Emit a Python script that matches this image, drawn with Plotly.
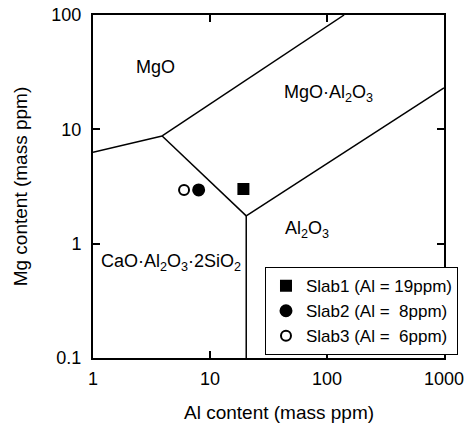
import plotly.graph_objects as go
import math

# Phase boundary lines (Al ppm, Mg ppm)
b1_x = [1, 3.9]
b1_y = [6.3, 8.75]
b2_x = [3.9, 140]
b2_y = [8.75, 100]
b3_x = [3.9, 20.4]
b3_y = [8.75, 1.75]
b4_x = [20.4, 20.4]
b4_y = [1.75, 0.1]
b5_x = [20.4, 1000]
b5_y = [1.75, 23]

# Slab data
slab_names = ["Slab1 (Al = 19ppm)", "Slab2 (Al =  8ppm)", "Slab3 (Al =  6ppm)"]
slab_al = [19.3, 8.0, 6.0]
slab_mg = [3.0, 2.95, 2.95]
slab_symbols = ["square", "circle", "circle-open"]
slab_sizes = [10, 11, 10]

# Region labels
region_text = ["MgO", "MgO·Al<sub>2</sub>O<sub>3</sub>", "Al<sub>2</sub>O<sub>3</sub>",
               "CaO·Al<sub>2</sub>O<sub>3</sub>·2SiO<sub>2</sub>"]
region_x = [3.45, 103, 68, 1.13]
region_y = [35, 20.4, 1.32, 0.69]
region_anchor = ["center", "center", "center", "left"]

x_ticks = [1, 10, 100, 1000]
x_ticktext = ["1", "10", "100", "1000"]
y_ticks = [0.1, 1, 10, 100]
y_ticktext = ["0.1", "1", "10", "100"]

FONT = "Liberation Sans, Arial, sans-serif"

fig = go.Figure()
for bx, by in [(b1_x, b1_y), (b2_x, b2_y), (b3_x, b3_y), (b4_x, b4_y), (b5_x, b5_y)]:
    fig.add_trace(go.Scatter(x=bx, y=by, mode="lines", line=dict(color="black", width=1.5),
                             showlegend=False, hoverinfo="skip"))

for name, ax, my, sym, sz in zip(slab_names, slab_al, slab_mg, slab_symbols, slab_sizes):
    fig.add_trace(go.Scatter(x=[ax], y=[my], mode="markers", name=name,
                             marker=dict(symbol=sym, size=sz, color="black",
                                         line=dict(color="black", width=2))))

for t, x, y, a in zip(region_text, region_x, region_y, region_anchor):
    fig.add_annotation(x=math.log10(x), y=math.log10(y), text=t, showarrow=False,
                       xanchor=a, font=dict(size=18, color="black", family=FONT))

# Axis titles
fig.add_annotation(xref="paper", yref="paper", x=0.53, y=-0.16, text="Al content (mass ppm)",
                   showarrow=False, xanchor="center", yanchor="middle",
                   font=dict(size=19, color="black", family=FONT))
fig.add_annotation(xref="paper", yref="paper", x=-0.2056, y=0.5, text="Mg content (mass ppm)",
                   showarrow=False, xanchor="center", yanchor="middle", textangle=-90,
                   font=dict(size=19, color="black", family=FONT))

axis_common = dict(type="log", showgrid=False, zeroline=False, showline=True,
                   linecolor="black", linewidth=2, mirror="ticks", ticks="inside",
                   ticklen=7, tickwidth=1.5, tickcolor="black", automargin=False,
                   tickfont=dict(size=18, color="black", family=FONT))

fig.update_layout(
    width=470, height=427,
    margin=dict(l=93, r=22, t=15, b=69),
    paper_bgcolor="white", plot_bgcolor="white",
    font=dict(family=FONT, color="black"),
    xaxis=dict(range=[0, 3], tickvals=x_ticks, ticktext=x_ticktext,
               ticklabelstandoff=3, **axis_common),
    yaxis=dict(range=[-1, 2], tickvals=y_ticks, ticktext=y_ticktext,
               ticklabelstandoff=6, **axis_common),
    legend=dict(x=0.49, y=0.265, xanchor="left", yanchor="top",
                bordercolor="black", borderwidth=1, bgcolor="white",
                font=dict(size=17, color="black", family=FONT),
                tracegroupgap=0, itemsizing="trace"),
    showlegend=True,
)

fig.write_html("out.html", config={"displayModeBar": False},
               post_script="document.body.style.margin='0';document.body.style.overflow='hidden';")
